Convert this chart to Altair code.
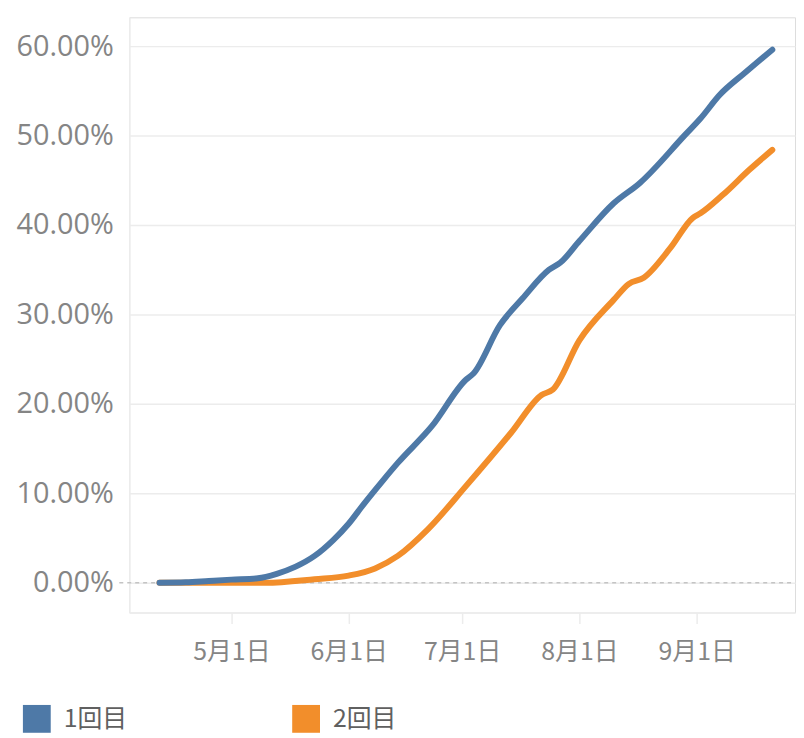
import altair as alt
import pandas as pd

# ---- data ----
series_names = ["1回目", "2回目"]
series_colors = ["#4e79a7", "#f28e2b"]

dates_1 = ["2021-04-12", "2021-04-19", "2021-04-25", "2021-05-01", "2021-05-08",
           "2021-05-13", "2021-05-18", "2021-05-23", "2021-05-28", "2021-06-01",
           "2021-06-05", "2021-06-10", "2021-06-14", "2021-06-23", "2021-07-02",
           "2021-07-04", "2021-07-11", "2021-07-17", "2021-07-24", "2021-07-27",
           "2021-08-01", "2021-08-10", "2021-08-17", "2021-08-29", "2021-09-02",
           "2021-09-07", "2021-09-14", "2021-09-21"]
values_1 = [0.0, 0.05, 0.2, 0.35, 0.5,
            1.0, 1.8, 3.0, 4.8, 6.6,
            8.8, 11.4, 13.4, 17.5, 22.7,
            23.4, 28.8, 31.8, 35.0, 35.8,
            38.2, 42.4, 44.7, 50.1, 51.9,
            54.5, 57.1, 59.6]

dates_2 = ["2021-04-12", "2021-04-22", "2021-05-10", "2021-05-23", "2021-06-01",
           "2021-06-08", "2021-06-14", "2021-06-22", "2021-07-02", "2021-07-14",
           "2021-07-22", "2021-07-25", "2021-08-01", "2021-08-10", "2021-08-14",
           "2021-08-18", "2021-08-25", "2021-08-31", "2021-09-02", "2021-09-08",
           "2021-09-15", "2021-09-21"]
values_2 = [0.0, 0.0, 0.0, 0.4, 0.8,
            1.6, 3.0, 6.0, 10.8, 16.8,
            21.0, 21.6, 27.1, 31.6, 33.4,
            34.1, 37.4, 40.8, 41.3, 43.4,
            46.2, 48.4]

y_tick_values = [0, 10, 20, 30, 40, 50, 60]
x_tick_months = [5, 6, 7, 8, 9]

df = pd.concat([
    pd.DataFrame({"date": dates_1, "value": values_1, "series": series_names[0]}),
    pd.DataFrame({"date": dates_2, "value": values_2, "series": series_names[1]}),
], ignore_index=True)

label_color = "#858585"
grid_color = "#ececec"
PLOT_W = 670
PLOT_H = 599

x_scale = alt.Scale(
    type="utc",
    domain=[alt.DateTime(year=2021, month=4, date=4, utc=True),
            alt.DateTime(year=2021, month=9, date=27, utc=True)],
)
y_scale = alt.Scale(domain=[-3.33, 63.22], nice=False, zero=False)

x_enc = alt.X(
    "date:T", scale=x_scale, title=None,
    axis=alt.Axis(
        values=[alt.DateTime(year=2021, month=m, date=1, utc=True) for m in x_tick_months],
        labelExpr="(utcmonth(datum.value)+1) + '月' + utcdate(datum.value) + '日'",
        grid=False, domainColor=grid_color, domainWidth=1.5,
        tickColor=grid_color, tickSize=11, tickWidth=1.5,
        labelFont="Noto Sans CJK JP", labelFontSize=25, labelColor=label_color,
        labelPadding=16,
    ),
)
y_enc = alt.Y(
    "value:Q", scale=y_scale, title=None,
    axis=alt.Axis(
        values=y_tick_values,
        labelExpr="format(datum.value, '.2f') + '%'",
        grid=True, gridColor=grid_color, gridWidth=1.5,
        domainColor=grid_color, domainWidth=1.5,
        ticks=False, labelPadding=16,
        labelFont="Open Sans", labelFontSize=29, labelColor=label_color,
        minExtent=122, maxExtent=122,
    ),
)
color_enc = alt.Color(
    "series:N",
    scale=alt.Scale(domain=series_names, range=series_colors),
    title=None,
    legend=alt.Legend(
        orient="none", legendX=-107, legendY=692, direction="horizontal",
        symbolType="square", symbolSize=196, symbolStrokeWidth=14,
        labelFont="Noto Sans CJK JP", labelFontSize=25, labelColor="#606060",
        labelOffset=13, columnPadding=145, padding=0,
    ),
)

zero_df = pd.DataFrame({"value": [0]})
zero_rule = alt.Chart(zero_df).mark_rule(
    color="#c4c4c4", strokeDash=[4, 4], strokeWidth=1.5
).encode(
    y=alt.Y("value:Q", scale=y_scale),
    x=alt.value(-10), x2=alt.value(PLOT_W),
)

line_orange = alt.Chart(df).transform_filter(
    alt.datum.series == series_names[1]
).mark_line(strokeWidth=6, strokeCap="round", strokeJoin="round", interpolate="monotone").encode(
    x=x_enc, y=y_enc, color=color_enc
)
line_blue = alt.Chart(df).transform_filter(
    alt.datum.series == series_names[0]
).mark_line(strokeWidth=6, strokeCap="round", strokeJoin="round", interpolate="monotone").encode(
    x=x_enc, y=y_enc, color=color_enc
)

chart = alt.layer(zero_rule, line_orange, line_blue).properties(
    width=PLOT_W, height=PLOT_H,
    padding={"left": 0, "top": 7, "right": 0, "bottom": 0},
).configure_view(stroke=None).configure(background="white")

chart.save("out.html", embed_options={"renderer": "svg", "actions": False})
